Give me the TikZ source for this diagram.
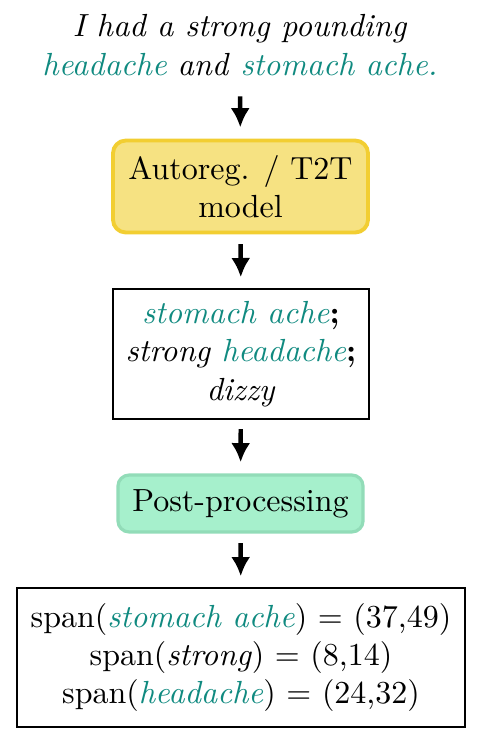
\documentclass[tikz,border=0pt]{standalone}
\usepackage{tikz}
\usetikzlibrary{arrows.meta}

\definecolor{spanteal}{RGB}{16,138,128}
\definecolor{modelfill}{RGB}{246,226,130}
\definecolor{modeldraw}{RGB}{242,206,50}
\definecolor{postfill}{RGB}{166,240,204}
\definecolor{postdraw}{RGB}{146,220,184}

\newcommand{\ent}[1]{\textcolor{spanteal}{\textit{#1}}}

\begin{document}
\begin{tikzpicture}[x=0.3125pt,y=-0.3125pt,
	flow/.style={->,>={Latex[length=6pt,width=6pt]},line width=1.4pt,shorten <=3pt,shorten >=3.5pt},
	modelbox/.style={draw=modeldraw,fill=modelfill,line width=1.2pt,rounded corners=4pt,align=center,minimum width=79.7pt,minimum height=28.75pt},
	postbox/.style={draw=postdraw,fill=postfill,line width=1pt,rounded corners=3.5pt,align=center,minimum width=76.6pt,minimum height=17.8pt},
	plainbox/.style={draw,line width=0.4pt,align=center}]
\useasboundingbox (0,0) rectangle (479,743);
	\node[align=center] (sent) at (240,45) {\textit{I had a strong pounding}\\ \ent{headache} \textit{and} \ent{stomach ache.}};
\node[modelbox] (model) at (240.5,186.5) {Autoreg. / T2T\\ model};
\node[plainbox,minimum width=80pt,minimum height=40.6pt] (out) at (241,354) {\ent{stomach ache}\textbf{;}\\ \textit{strong} \ent{headache}\textbf{;}\\ \textit{dizzy}};
\node[postbox] (post) at (240.5,503.5) {Post-processing};
\node[plainbox,minimum width=140pt,minimum height=43.4pt] (spans) at (241,657.5) {span(\ent{stomach ache}) = (37,49)\\ span(\textit{strong}) = (8,14)\\ span(\ent{headache}) = (24,32)};
\draw [flow] (sent)--(model);
\draw [flow] (model)--(out);
\draw [flow] (out)--(post);
\draw [flow] (post)--(spans);
	\end{tikzpicture}
\end{document}
